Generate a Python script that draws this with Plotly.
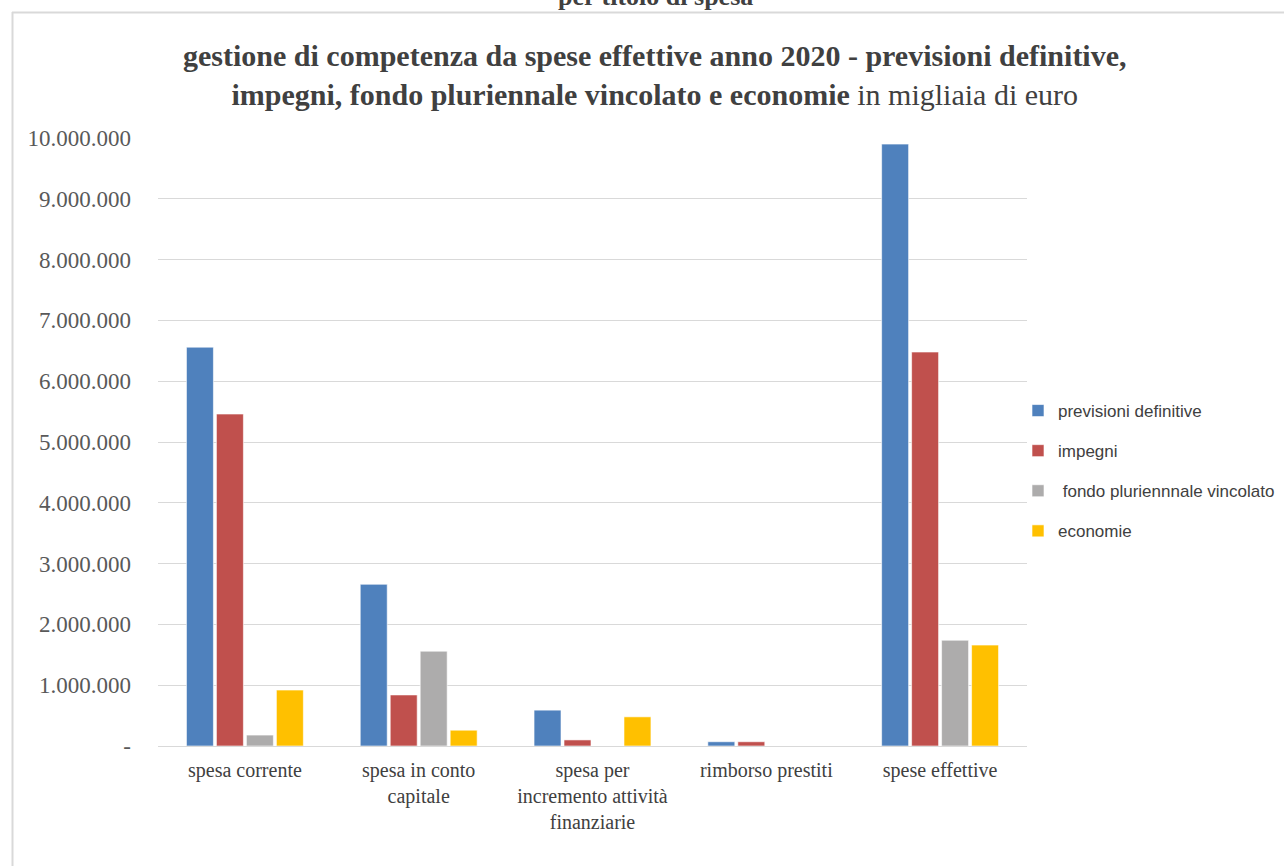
import plotly.graph_objects as go

categories = ["spesa corrente", "spesa in conto<br>capitale",
              "spesa per<br>incremento attività<br>finanziarie",
              "rimborso prestiti", "spese effettive"]
series_names = ["previsioni definitive", "impegni",
                " fondo pluriennnale vincolato", "economie"]
previsioni = [6560000, 2660000, 590000, 70000, 9900000]
impegni = [5460000, 840000, 100000, 70000, 6480000]
fondo = [180000, 1560000, 0, 0, 1740000]
economie = [920000, 260000, 480000, 0, 1660000]
tick_vals = [0, 1e6, 2e6, 3e6, 4e6, 5e6, 6e6, 7e6, 8e6, 9e6, 1e7]
tick_text = ["-", "1.000.000", "2.000.000", "3.000.000", "4.000.000",
             "5.000.000", "6.000.000", "7.000.000", "8.000.000",
             "9.000.000", "10.000.000"]
colors = ["#4F81BD", "#C0504D", "#ADACAC", "#FFC000"]

W, H = 1284, 866
L, R, T, B = 158, 1027, 138, 746


def px(x):
    return (x - L) / (R - L)


def py(y):
    return (B - y) / (B - T)


fig = go.Figure()
for i, (name, vals) in enumerate(zip(series_names,
                                     [previsioni, impegni, fondo, economie])):
    fig.add_trace(go.Bar(x=categories, y=vals, name=name,
                         marker=dict(color=colors[i],
                                     line=dict(color="rgba(255,255,255,0.6)", width=1)),
                         legendgroup=f"g{i}"))

serif = "Liberation Serif"
fig.update_layout(
    width=W, height=H,
    margin=dict(l=L, r=W - R, t=T, b=H - B, autoexpand=False),
    paper_bgcolor="white", plot_bgcolor="white",
    barmode="group", bargap=0.31, bargroupgap=0.1,
    showlegend=True,
    legend=dict(x=px(1018), y=py(393), xanchor="left", yanchor="top",
                font=dict(family="Liberation Sans", size=17, color="#404040"),
                tracegroupgap=15, itemwidth=30, bgcolor="rgba(0,0,0,0)"),
    xaxis=dict(tickfont=dict(family=serif, size=20, color="#404040"),
               showline=False, ticks="", showgrid=False, ticklabelstandoff=10),
    yaxis=dict(range=[0, 1e7], tickvals=tick_vals, ticktext=tick_text,
               tickfont=dict(family=serif, size=23, color="#595959"),
               showgrid=True, gridcolor="#D9D9D9", gridwidth=1,
               zeroline=True, zerolinecolor="#D9D9D9", zerolinewidth=1,
               ticks="", ticklen=0, showline=False, ticklabelstandoff=26),
    font=dict(family=serif),
)

fig.add_annotation(
    text="<b>gestione di competenza da spese effettive anno 2020 - previsioni definitive,"
         "<br>impegni, fondo pluriennale vincolato e economie</b> in migliaia di euro",
    xref="paper", yref="paper", x=px(655), y=py(75), xanchor="center",
    yanchor="middle", showarrow=False, align="center",
    font=dict(family=serif, size=30, color="#404040"))
fig.add_annotation(
    text="<b>per titolo di spesa</b>", xref="paper", yref="paper",
    x=px(655), y=py(-4), xanchor="center", yanchor="middle", showarrow=False,
    font=dict(family=serif, size=26, color="#404040"))

fig.add_shape(type="line", xref="paper", yref="paper",
              x0=px(12.5), x1=px(12.5), y0=py(866), y1=py(12),
              line=dict(color="#D9D9D9", width=2))
fig.add_shape(type="line", xref="paper", yref="paper",
              x0=px(12), x1=px(1284), y0=py(12.5), y1=py(12.5),
              line=dict(color="#D9D9D9", width=2))

fig.write_html("out.html")
